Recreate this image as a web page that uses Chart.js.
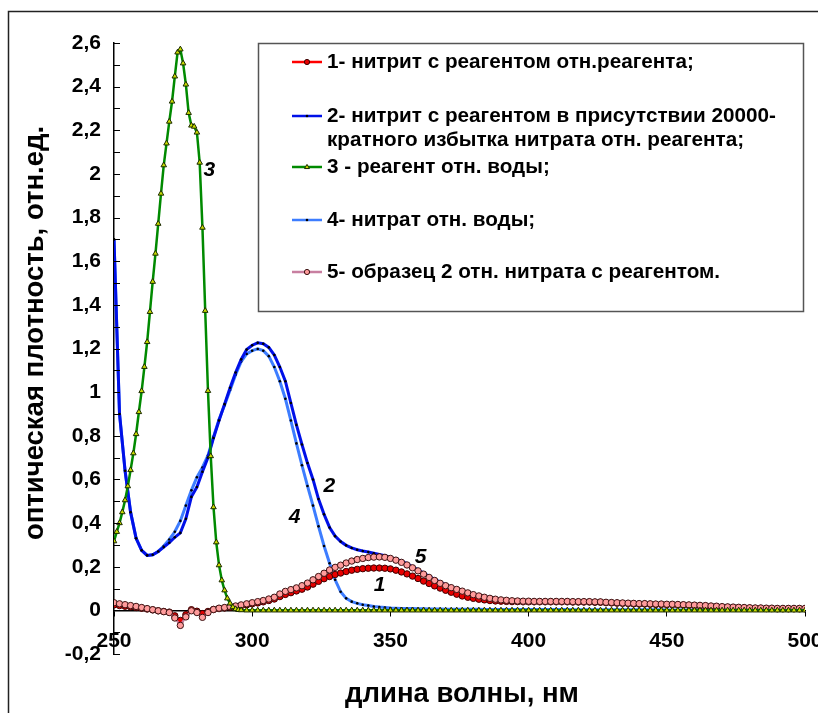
<!DOCTYPE html>
<html>
<head>
<meta charset="utf-8">
<title>Спектры поглощения</title>
<script src="https://cdn.jsdelivr.net/npm/chart.js@4"></script>
<style>
  body { margin: 0; background: #fff; }
</style>
</head>
<body>
<canvas id="spectra" width="818" height="713"></canvas>
<script>
// wavelength grid, nm (2 nm step)
const wavelengths = [];
for (let nm = 250; nm <= 500; nm += 2) wavelengths.push(nm);

// reagent vs water was taken every 1 nm up to 296 nm, then every 2 nm
const reagentWavelengths = [];
for (let nm = 250; nm <= 296; nm++) reagentWavelengths.push(nm);
for (let nm = 298; nm <= 500; nm += 2) reagentWavelengths.push(nm);

// 1 - nitrite with reagent vs reagent
const nitrite = [
  0.025, 0.022, 0.019, 0.016, 0.013, 0.01, 0.006, 0.002, -0.002, -0.005,
  -0.008, -0.025, -0.046, -0.02, 0.003, -0.004, -0.015, -0.005, 0.004, 0.008,
  0.011, 0.014, 0.017, 0.021, 0.025, 0.03, 0.034, 0.039, 0.045, 0.052,
  0.063, 0.073, 0.081, 0.089, 0.097, 0.107, 0.12, 0.133, 0.145, 0.155,
  0.164, 0.171, 0.178, 0.184, 0.188, 0.191, 0.193, 0.194, 0.194, 0.193,
  0.19, 0.184, 0.176, 0.167, 0.157, 0.146, 0.134, 0.123, 0.112, 0.102,
  0.092, 0.083, 0.074, 0.066, 0.06, 0.055, 0.051, 0.048, 0.045, 0.043,
  0.042, 0.041, 0.04, 0.04, 0.039, 0.039, 0.039, 0.039, 0.039, 0.039,
  0.039, 0.039, 0.039, 0.038, 0.038, 0.038, 0.038, 0.037, 0.037, 0.035,
  0.034, 0.033, 0.032, 0.031, 0.03, 0.029, 0.029, 0.028, 0.027, 0.027,
  0.026, 0.026, 0.025, 0.024, 0.023, 0.022, 0.021, 0.02, 0.018, 0.017,
  0.015, 0.014, 0.013, 0.012, 0.011, 0.01, 0.009, 0.009, 0.008, 0.008,
  0.007, 0.007, 0.007, 0.007, 0.007, 0.007
];

// 2 - nitrite with reagent, 20000-fold nitrate excess, vs reagent
const nitriteInNitrate = [
  1.70, 0.90, 0.64, 0.45, 0.33, 0.275, 0.252, 0.255, 0.27, 0.29,
  0.31, 0.335, 0.355, 0.42, 0.52, 0.565, 0.635, 0.70, 0.79, 0.87,
  0.945, 1.02, 1.09, 1.15, 1.195, 1.215, 1.226, 1.222, 1.205, 1.17,
  1.115, 1.05, 0.95, 0.85, 0.76, 0.675, 0.60, 0.51, 0.44, 0.38,
  0.34, 0.315, 0.298, 0.286, 0.278, 0.272, 0.267, 0.262, 0.256, 0.25,
  0.243, 0.235, 0.225, 0.214, 0.20, 0.186, 0.171, 0.156, 0.142, 0.129,
  0.118, 0.107, 0.098, 0.09, 0.082, 0.075, 0.068, 0.062, 0.058, 0.054,
  0.05, 0.048, 0.046, 0.045, 0.044, 0.044, 0.043, 0.043, 0.043, 0.043,
  0.043, 0.043, 0.043, 0.042, 0.042, 0.042, 0.042, 0.041, 0.041, 0.039,
  0.038, 0.037, 0.036, 0.035, 0.034, 0.033, 0.033, 0.032, 0.031, 0.031,
  0.03, 0.03, 0.029, 0.028, 0.027, 0.026, 0.025, 0.024, 0.022, 0.021,
  0.02, 0.018, 0.017, 0.016, 0.015, 0.014, 0.013, 0.013, 0.012, 0.012,
  0.011, 0.011, 0.011, 0.011, 0.011, 0.011
];

// 3 - reagent vs water (reagentWavelengths grid)
const reagent = [
  0.317, 0.36, 0.40, 0.45, 0.505, 0.569, 0.643, 0.72, 0.808, 0.909,
  1.005, 1.116, 1.23, 1.368, 1.506, 1.635, 1.772, 1.91, 2.04, 2.14,
  2.24, 2.332, 2.447, 2.557, 2.571, 2.507, 2.41, 2.28, 2.222, 2.217,
  2.19, 2.052, 1.754, 1.373, 1.006, 0.707, 0.473, 0.312, 0.207, 0.138,
  0.092, 0.055, 0.032, 0.015, 0.006, 0.002, 0.001,
  0, 0, 0, 0, 0, 0, 0, 0, 0, 0, 0, 0, 0, 0, 0, 0, 0, 0, 0, 0, 0,
  0, 0, 0, 0, 0, 0, 0, 0, 0, 0, 0, 0, 0, 0, 0, 0, 0, 0, 0, 0, 0,
  0, 0, 0, 0, 0, 0, 0, 0, 0, 0, 0, 0, 0, 0, 0, 0, 0, 0, 0, 0, 0,
  0, 0, 0, 0, 0, 0, 0, 0, 0, 0, 0, 0, 0, 0, 0, 0, 0, 0, 0, 0, 0,
  0, 0, 0, 0, 0, 0, 0, 0, 0, 0, 0, 0, 0, 0, 0, 0, 0, 0
];

// 4 - nitrate vs water
const nitrate = [
  1.70, 0.90, 0.64, 0.45, 0.33, 0.275, 0.252, 0.255, 0.27, 0.295,
  0.325, 0.36, 0.41, 0.48, 0.55, 0.61, 0.655, 0.71, 0.795, 0.875,
  0.94, 1.01, 1.08, 1.14, 1.175, 1.19, 1.198, 1.19, 1.165, 1.115,
  1.05, 0.97, 0.87, 0.765, 0.665, 0.57, 0.48, 0.385, 0.295, 0.216,
  0.14, 0.085, 0.055, 0.04, 0.032, 0.026, 0.022, 0.018, 0.015, 0.013,
  0.011, 0.01, 0.009, 0.008, 0.008, 0.007, 0.007, 0.006, 0.006, 0.006,
  0.005, 0.005, 0.005, 0.005, 0.005, 0.005, 0.005, 0.004, 0.004, 0.004,
  0.004, 0.004, 0.004, 0.004, 0.004, 0.004, 0.004, 0.004, 0.004, 0.004,
  0.004, 0.004, 0.004, 0.003, 0.003, 0.003, 0.003, 0.003, 0.003, 0.003,
  0.003, 0.003, 0.003, 0.003, 0.003, 0.003, 0.003, 0.003, 0.003, 0.003,
  0.002, 0.002, 0.002, 0.002, 0.002, 0.002, 0.002, 0.002, 0.002, 0.002,
  0.002, 0.002, 0.002, 0.002, 0.002, 0.002, 0.002, 0.002, 0.002, 0.002,
  0.002, 0.002, 0.002, 0.002, 0.002, 0.002
];

// 5 - sample 2 vs nitrate with reagent
const sample = [
  0.035, 0.03, 0.026, 0.022, 0.018, 0.013, 0.008, 0.003, -0.002, -0.006,
  -0.01, -0.035, -0.069, -0.03, -0.002, -0.01, -0.032, -0.01, 0.004, 0.01,
  0.013, 0.017, 0.02, 0.025, 0.03, 0.035, 0.04, 0.045, 0.052, 0.06,
  0.075, 0.087, 0.095, 0.103, 0.113, 0.125, 0.14, 0.155, 0.17, 0.185,
  0.197, 0.207, 0.217, 0.226, 0.233, 0.238, 0.242, 0.244, 0.245, 0.243,
  0.238, 0.23, 0.22, 0.208, 0.195, 0.181, 0.166, 0.151, 0.137, 0.124,
  0.113, 0.104, 0.096, 0.088, 0.08, 0.072, 0.066, 0.06, 0.055, 0.051,
  0.048, 0.046, 0.044, 0.043, 0.042, 0.042, 0.041, 0.041, 0.041, 0.041,
  0.041, 0.041, 0.041, 0.04, 0.04, 0.04, 0.04, 0.039, 0.039, 0.037,
  0.036, 0.035, 0.034, 0.033, 0.032, 0.031, 0.031, 0.03, 0.029, 0.029,
  0.028, 0.028, 0.027, 0.026, 0.025, 0.024, 0.023, 0.022, 0.02, 0.019,
  0.017, 0.016, 0.015, 0.014, 0.013, 0.012, 0.011, 0.011, 0.01, 0.01,
  0.009, 0.009, 0.009, 0.009, 0.009, 0.009
];

const seriesNames = [
  '1- нитрит с реагентом отн.реагента;',
  ['2- нитрит с реагентом в присутствии 20000-', 'кратного избытка нитрата отн. реагента;'],
  '3 - реагент отн. воды;',
  '4- нитрат отн. воды;',
  '5- образец 2 отн. нитрата с реагентом.'
];

// curve numbers, placed in data units
const curveTags = [
  { text: '3', nm: 284.5, a: 2.018 },
  { text: '2', nm: 327.9, a: 0.571 },
  { text: '4', nm: 315.3, a: 0.429 },
  { text: '5', nm: 360.9, a: 0.245 },
  { text: '1', nm: 346.1, a: 0.117 }
];

const xTitle = 'длина волны, нм';
const yTitle = 'оптическая плотность, отн.ед.';

const FONT = '"Liberation Sans", Arial, sans-serif';

function pairs(xs, ys) {
  return xs.map((x, i) => ({ x: x, y: ys[i] }));
}

function fmtTick(v) {
  const k = Math.round(v * 10);
  if (k % 2) return '';
  if (k % 10 === 0) return String(k / 10);
  return (k / 10).toFixed(1).replace('.', ',');
}

const datasets = [
  {
    label: seriesNames[0], data: pairs(wavelengths, nitrite),
    borderColor: '#ff0000', borderWidth: 2,
    pointStyle: 'circle', pointRadius: 3.2, pointBorderWidth: 1,
    pointBackgroundColor: '#e80000', pointBorderColor: '#3a0000', order: 3
  },
  {
    label: seriesNames[1], data: pairs(wavelengths, nitriteInNitrate),
    borderColor: '#0010e8', borderWidth: 3,
    pointStyle: 'circle', pointRadius: 1.3, pointBorderWidth: 0,
    pointBackgroundColor: '#000', pointBorderColor: '#000', order: 4
  },
  {
    label: seriesNames[2], data: pairs(reagentWavelengths, reagent),
    borderColor: '#008a00', borderWidth: 2.5,
    pointStyle: 'triangle', pointRadius: 3.2, pointBorderWidth: 1,
    pointBackgroundColor: '#c8dc00', pointBorderColor: '#1a2a00', order: 1
  },
  {
    label: seriesNames[3], data: pairs(wavelengths, nitrate),
    borderColor: '#3d7dff', borderWidth: 3,
    pointStyle: 'circle', pointRadius: 1.3, pointBorderWidth: 0,
    pointBackgroundColor: '#000', pointBorderColor: '#000', order: 5
  },
  {
    label: seriesNames[4], data: pairs(wavelengths, sample),
    borderColor: '#c87fa0', borderWidth: 2,
    pointStyle: 'circle', pointRadius: 3.2, pointBorderWidth: 1,
    pointBackgroundColor: '#ff9c9c', pointBorderColor: '#3a1010', order: 2
  }
];

function drawMarker(ctx, ds, x, y) {
  const r = Math.min(ds.pointRadius, 2.6);
  ctx.fillStyle = ds.pointBackgroundColor;
  ctx.strokeStyle = ds.pointBorderColor;
  ctx.lineWidth = ds.pointBorderWidth;
  ctx.beginPath();
  if (ds.pointStyle === 'triangle') {
    ctx.moveTo(x, y - r);
    ctx.lineTo(x + r * 0.95, y + r * 0.6);
    ctx.lineTo(x - r * 0.95, y + r * 0.6);
    ctx.closePath();
  } else {
    ctx.arc(x, y, r, 0, Math.PI * 2);
  }
  ctx.fill();
  if (ds.pointBorderWidth) ctx.stroke();
}

const decor = {
  id: 'decor',
  afterDraw(chart) {
    const { ctx, chartArea: area, scales: { x, y } } = chart;
    ctx.save();

    // y ticks pointing into the plot
    ctx.strokeStyle = '#000';
    ctx.lineWidth = 1;
    y.ticks.forEach(t => {
      const py = Math.round(y.getPixelForValue(t.value)) + 0.5;
      ctx.beginPath();
      ctx.moveTo(area.left, py);
      ctx.lineTo(area.left + 6, py);
      ctx.stroke();
    });

    // outer frame
    ctx.strokeStyle = '#222';
    ctx.lineWidth = 1.5;
    ctx.strokeRect(8.5, 11.5, 1000, 1000);

    // axis titles
    ctx.fillStyle = '#000';
    ctx.textAlign = 'center';
    ctx.textBaseline = 'middle';
    ctx.font = 'bold 27.5px ' + FONT;
    ctx.fillText(xTitle, 462, 694);
    ctx.save();
    ctx.translate(35, 333);
    ctx.rotate(-Math.PI / 2);
    ctx.fillText(yTitle, 0, 0);
    ctx.restore();

    // curve numbers
    ctx.font = 'italic bold 21px ' + FONT;
    curveTags.forEach(t => {
      ctx.fillText(t.text, x.getPixelForValue(t.nm), y.getPixelForValue(t.a));
    });

    // legend box
    const bx = 258.5, by = 43.5, bw = 545, bh = 268;
    ctx.fillStyle = '#fff';
    ctx.fillRect(bx, by, bw, bh);
    ctx.strokeStyle = '#555';
    ctx.lineWidth = 1.5;
    ctx.strokeRect(bx, by, bw, bh);

    const rows = [62, 116, 167, 220, 272];
    ctx.font = 'bold 20.7px ' + FONT;
    ctx.textAlign = 'left';
    chart.data.datasets.forEach((ds, i) => {
      const ry = rows[i];
      ctx.strokeStyle = ds.borderColor;
      ctx.lineWidth = 2.5;
      ctx.beginPath();
      ctx.moveTo(292, ry);
      ctx.lineTo(322, ry);
      ctx.stroke();
      drawMarker(ctx, ds, 307, ry);
      ctx.fillStyle = '#000';
      const lines = Array.isArray(ds.label) ? ds.label : [ds.label];
      lines.forEach((s, j) => ctx.fillText(s, 327, ry + j * 24));
    });

    ctx.restore();
  }
};

new Chart(document.getElementById('spectra'), {
  type: 'line',
  data: { datasets: datasets },
  options: {
    responsive: false,
    animation: false,
    layout: { padding: { top: 43, right: 13, left: 0, bottom: 59 } },
    plugins: { legend: { display: false }, tooltip: { enabled: false } },
    elements: { line: { tension: 0 } },
    scales: {
      x: {
        type: 'linear',
        min: 250,
        max: 500,
        position: { y: 0 },
        ticks: {
          stepSize: 50, padding: 13, maxRotation: 0, color: '#000',
          font: { family: FONT, size: 21, weight: 'bold' }
        },
        grid: { display: true, drawOnChartArea: false, tickLength: 5, color: '#000' },
        border: { color: '#000', width: 1.5 },
        afterFit(s) { s.height = 0; s.paddingLeft = 0; s.paddingRight = 0; }
      },
      y: {
        type: 'linear',
        min: -0.2,
        max: 2.6,
        ticks: {
          stepSize: 0.1, autoSkip: false, padding: 13, color: '#000',
          font: { family: FONT, size: 21, weight: 'bold' },
          callback: fmtTick
        },
        grid: { display: false, drawTicks: false },
        border: { color: '#000', width: 1.5 },
        afterFit(s) { s.width = 114; }
      }
    }
  },
  plugins: [decor]
});
</script>
</body>
</html>
